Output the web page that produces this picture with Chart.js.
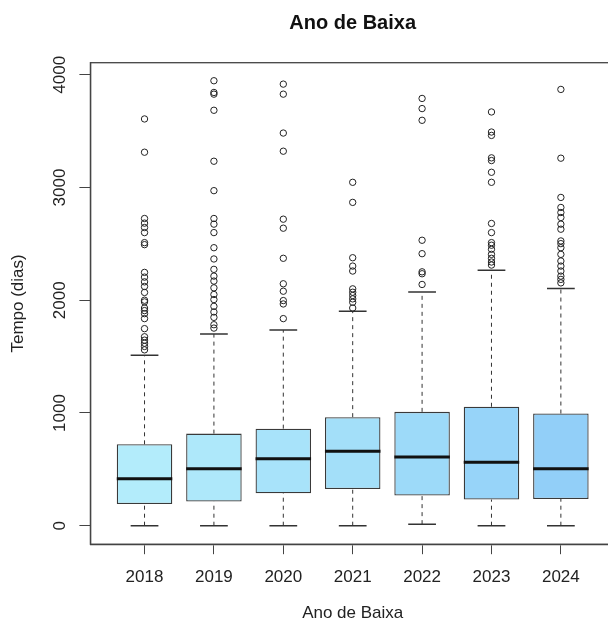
<!DOCTYPE html>
<html>
<head>
<meta charset="utf-8">
<script src="https://cdn.jsdelivr.net/npm/chart.js@4/dist/chart.umd.min.js"></script>
<style>
  html, body { margin: 0; padding: 0; background: #fff; overflow: hidden; }
  #wrap { width: 620px; height: 629px; position: relative; }
</style>
</head>
<body>
<div id="wrap"><canvas id="grafico"></canvas></div>
<script>
// dados (Tempo em dias por ano de baixa)
const anos = [2018, 2019, 2020, 2021, 2022, 2023, 2024];
const bigodeMin = [0, 0, 0, 0, 14, 0, 0];
const q1 = [193, 214, 288, 326, 267, 232, 237];
const mediana = [416, 505, 594, 660, 609, 564, 505];
const q3 = [722, 817, 861, 963, 1010, 1055, 995];
const bigodeMax = [1512, 1700, 1735, 1902, 2074, 2265, 2104];
const outliers = [
    [3608, 3313, 2725, 2684, 2645, 2600, 2511, 2493, 2247, 2205, 2163, 2122, 2069, 2000, 1985, 1931, 1908, 1881, 1837, 1748, 1676, 1646, 1619, 1590, 1560],
    [3947, 3843, 3828, 3685, 3233, 2972, 2725, 2675, 2600, 2466, 2366, 2274, 2214, 2170, 2110, 2051, 2006, 1946, 1896, 1848, 1783, 1753],
    [3917, 3828, 3483, 3322, 2719, 2639, 2372, 2146, 2080, 1997, 1967, 1837],
    [3046, 2868, 2377, 2303, 2259, 2101, 2071, 2042, 2012, 1982, 1931],
    [3790, 3700, 3596, 2532, 2413, 2252, 2235, 2140],
    [3670, 3492, 3462, 3263, 3239, 3135, 3046, 2681, 2600, 2511, 2488, 2452, 2407, 2372, 2339, 2312],
    [3870, 3260, 2912, 2823, 2778, 2734, 2675, 2630, 2526, 2502, 2466, 2407, 2348, 2303, 2259, 2214, 2185, 2154]
];
const ticksY = [0, 1000, 2000, 3000, 4000];

const coresCaixa = ['#b3ecfb', '#aee8fa', '#a8e3fa', '#a3dff9', '#9ddaf9', '#97d4f9', '#92cff8'];
const fonte = "'Liberation Sans', Arial, sans-serif";

// monta segmentos separados por null
function segmentos(lista) {
    const pts = [];
    lista.forEach(s => {
        pts.push({ x: s[0], y: s[1] }, { x: s[2], y: s[3] }, { x: s[2], y: null });
    });
    return pts;
}

const tracejado = segmentos(anos.flatMap((a, i) => [
    [a, q3[i], a, bigodeMax[i]],
    [a, bigodeMin[i], a, q1[i]]
]));
const hastes = segmentos(anos.flatMap((a, i) => [
    [a - 0.2, bigodeMax[i], a + 0.2, bigodeMax[i]],
    [a - 0.2, bigodeMin[i], a + 0.2, bigodeMin[i]]
]));
const medianas = segmentos(anos.map((a, i) => [a - 0.4, mediana[i], a + 0.4, mediana[i]]));
const pontos = anos.flatMap((a, i) => outliers[i].map(v => ({ x: a, y: v })));

const rotulosY = {
    id: 'rotulosY',
    afterDraw(chart) {
        const ctx = chart.ctx;
        const y = chart.scales.y;
        ctx.save();
        ctx.fillStyle = '#222';
        ctx.font = '17px ' + fonte;
        ctx.textAlign = 'center';
        ctx.textBaseline = 'middle';
        ticksY.forEach(v => {
            ctx.save();
            ctx.translate(chart.chartArea.left - 30, y.getPixelForValue(v));
            ctx.rotate(-Math.PI / 2);
            ctx.fillText(String(v), 0, 0);
            ctx.restore();
        });
        ctx.restore();
    }
};

const moldura = {
    id: 'moldura',
    afterDraw(chart) {
        const a = chart.chartArea;
        const ctx = chart.ctx;
        ctx.save();
        ctx.strokeStyle = '#444';
        ctx.lineWidth = 1.3;
        ctx.strokeRect(a.left, a.top, a.right - a.left, a.bottom - a.top);
        ctx.restore();
    }
};

new Chart(document.getElementById('grafico'), {
    type: 'bar',
    data: {
        datasets: [
            {
                type: 'line',
                data: tracejado,
                borderColor: '#333',
                borderWidth: 1,
                borderDash: [4, 4],
                pointRadius: 0,
                spanGaps: false,
                order: 5
            },
            {
                type: 'line',
                data: hastes,
                borderColor: '#333',
                borderWidth: 1.5,
                pointRadius: 0,
                spanGaps: false,
                order: 4
            },
            {
                type: 'bar',
                data: anos.map((a, i) => ({ x: a, y: [q1[i], q3[i]] })),
                backgroundColor: coresCaixa,
                borderColor: '#3a3a3a',
                borderWidth: 1.3,
                borderSkipped: false,
                categoryPercentage: 1,
                barPercentage: 0.8,
                order: 3
            },
            {
                type: 'line',
                data: medianas,
                borderColor: '#111',
                borderWidth: 3,
                pointRadius: 0,
                spanGaps: false,
                order: 2
            },
            {
                type: 'line',
                data: pontos,
                showLine: false,
                pointRadius: 3.2,
                pointStyle: 'circle',
                pointBorderColor: '#222',
                pointBackgroundColor: 'rgba(0,0,0,0)',
                pointBorderWidth: 1,
                order: 1
            }
        ]
    },
    options: {
        responsive: true,
        maintainAspectRatio: false,
        animation: false,
        events: [],
        layout: { padding: { left: 0, right: 4, top: 0, bottom: 0 } },
        plugins: {
            legend: { display: false },
            tooltip: { enabled: false },
            title: {
                display: true,
                text: 'Ano de Baixa',
                fullSize: false,
                color: '#111',
                font: { family: fonte, size: 20, weight: 'bold' },
                padding: { top: 11, bottom: 27.7 }
            }
        },
        scales: {
            x: {
                type: 'linear',
                min: 2017.22,
                max: 2024.78,
                offset: false,
                afterBuildTicks: s => { s.ticks = anos.map(v => ({ value: v })); },
                ticks: {
                    callback: v => String(v),
                    color: '#222',
                    font: { family: fonte, size: 17 },
                    padding: 13,
                    maxRotation: 0,
                    autoSkip: false
                },
                grid: { drawOnChartArea: false, drawTicks: true, tickLength: 10, color: '#444', offset: false },
                border: { display: true, color: '#444', width: 1.3 },
                title: {
                    display: true,
                    text: 'Ano de Baixa',
                    color: '#222',
                    font: { family: fonte, size: 17 },
                    padding: { top: 3, bottom: 5 }
                }
            },
            y: {
                type: 'linear',
                min: -164,
                max: 4107,
                afterBuildTicks: s => { s.ticks = ticksY.map(v => ({ value: v })); },
                ticks: { display: false },
                grid: { drawOnChartArea: false, drawTicks: true, tickLength: 11, color: '#444' },
                border: { display: true, color: '#444', width: 1.3 },
                title: {
                    display: true,
                    text: 'Tempo (dias)',
                    color: '#222',
                    font: { family: fonte, size: 17 },
                    padding: { top: 8, bottom: 51 }
                }
            }
        }
    },
    plugins: [rotulosY, moldura]
});
</script>
</body>
</html>
